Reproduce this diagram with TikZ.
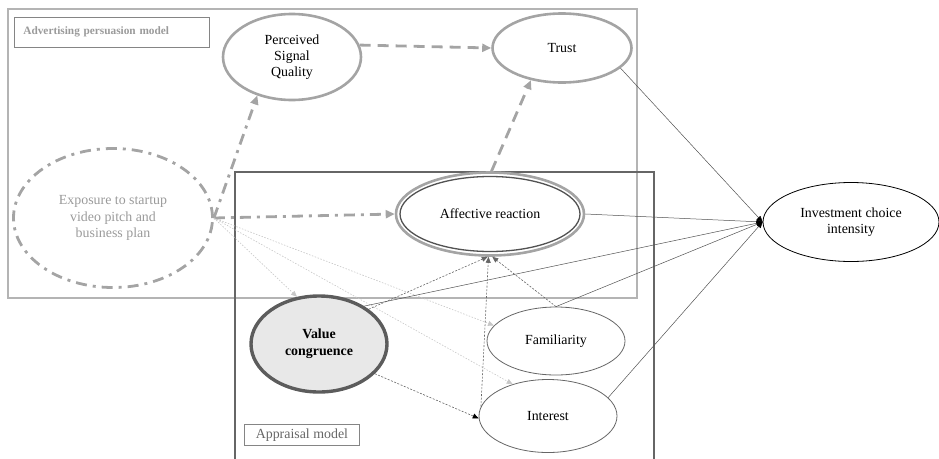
\documentclass[tikz,border=0pt]{standalone}
\usepackage{fontspec}
\setmainfont{Liberation Serif}
\usetikzlibrary{shapes.geometric,arrows.meta}
\definecolor{lgray}{HTML}{B4B4B4}
\definecolor{mgray}{HTML}{A4A4A4}
\definecolor{dgray}{HTML}{666666}
\definecolor{vcfill}{HTML}{E8E8E8}
\definecolor{txgray}{HTML}{9A9A9A}
\begin{document}
\begin{tikzpicture}[x=1pt,y=-1pt,
  font=\fontsize{13.9}{16.2}\selectfont,
  ell/.style={ellipse, inner sep=0pt, align=center, fill=white},
  gthick/.style={draw=mgray, line width=2.6pt},
  gdashdotarr/.style={draw=mgray, line width=2.8pt, dash pattern=on 11pt off 6pt on 3pt off 6pt, -{Triangle[length=9pt,width=8pt]}},
  gdasharr/.style={draw=mgray, line width=2.8pt, dash pattern=on 11pt off 7pt, -{Triangle[length=9pt,width=8pt]}},
  lightdot/.style={draw=lgray!75, line width=0.6pt, dash pattern=on 1.5pt off 1.5pt, -{Triangle[length=6pt,width=5pt]}},
  darkdot/.style={draw=dgray, line width=0.6pt, dash pattern=on 2pt off 1.5pt, -{Triangle[length=6pt,width=5pt]}},
  solidarr/.style={draw=dgray!80!black, line width=0.5pt, -{Triangle[length=6pt,width=5pt,fill=black,color=black]}}
]
\useasboundingbox (0,0) rectangle (939,458);
% frames
\node[draw=lgray, line width=2pt, minimum width=629pt, minimum height=289pt, inner sep=0pt, anchor=north west] (advbox) at (7,8) {};
\node[draw=dgray, line width=2pt, minimum width=419pt, minimum height=292pt, inner sep=0pt, anchor=north west] (appbox) at (234,171) {};
\node[draw=dgray!80, line width=0.8pt, minimum width=195pt, minimum height=30pt, text width=177pt, inner xsep=9pt, inner ysep=0pt, align=left, anchor=north west, text=txgray, font=\fontsize{11.3}{13}\selectfont\bfseries] (advlab) at (14,17) {\raisebox{4pt}{Advertising persuasion model}};
\node[draw=dgray!80, line width=0.8pt, minimum width=115pt, minimum height=21pt, inner sep=0pt, anchor=north west, text=dgray] (applab) at (244,424) {Appraisal model};
% nodes
\node[ell, gthick, minimum width=138pt, minimum height=86pt] (psq) at (292,57) {Perceived\\Signal\\Quality};
\node[ell, gthick, minimum width=139pt, minimum height=69pt] (trust) at (562,48) {Trust};
\node[ellipse, inner sep=0pt, align=center, draw=mgray, line width=2.8pt, dash pattern=on 11pt off 6pt on 3pt off 6pt, text=txgray, minimum width=199pt, minimum height=139pt, font=\fontsize{13.9}{16.7}\selectfont] (exp) at (113,218) {Exposure to startup\\video pitch and\\business plan};
\node[ell, draw=mgray, line width=2.6pt, minimum width=188pt, minimum height=83pt] (aff) at (490,214) {};
\node[ellipse, inner sep=0pt, draw=dgray!80!black, line width=1.3pt, minimum width=180pt, minimum height=75pt] (affin) at (490,214) {Affective reaction};
\node[ell, draw=black, line width=0.8pt, minimum width=176pt, minimum height=79pt] (inv) at (851,222) {Investment choice\\intensity};
\node[ell, draw=dgray!90!black, line width=3.4pt, fill=vcfill, minimum width=136pt, minimum height=96pt, font=\fontsize{13.9}{16.7}\selectfont\bfseries] (vc) at (319,344) {Value\\congruence};
\node[ell, draw=dgray, line width=0.8pt, minimum width=138pt, minimum height=68pt] (fam) at (556,341) {Familiarity};
\node[ell, draw=dgray, line width=0.8pt, minimum width=138pt, minimum height=73pt] (int) at (548,416) {Interest};
% advertising persuasion connectors
\draw[gdashdotarr] (exp.east) -- (psq.228);
\draw[gdashdotarr] (exp.east) -- (aff.west);
\draw[gdasharr] (psq.10) -- (trust.west);
\draw[gdasharr] (aff.88) -- (trust.226);
% exposure to appraisal
\draw[lightdot] (exp.east) -- (vc.115);
\draw[lightdot] (exp.east) -- (fam.166);
\draw[lightdot] (exp.east) -- (int.138);
% appraisal
\draw[darkdot] (vc.35) -- (aff.267);
\draw[darkdot, -{Triangle[length=6pt,width=5pt,fill=black,color=black]}] (vc.332) -- (int.182);
\draw[darkdot] (int.172) -- (aff.268);
\draw[darkdot] (fam.north) -- (aff.273);
% to investment
\draw[solidarr] (trust.341) -- (inv.west);
\draw[solidarr] (aff.east) -- (inv.west);
\draw[solidarr] (vc.40) -- (inv.west);
\draw[solidarr] (fam.north) -- (inv.west);
\draw[solidarr] (int.17) -- (inv.west);
\end{tikzpicture}
\end{document}
